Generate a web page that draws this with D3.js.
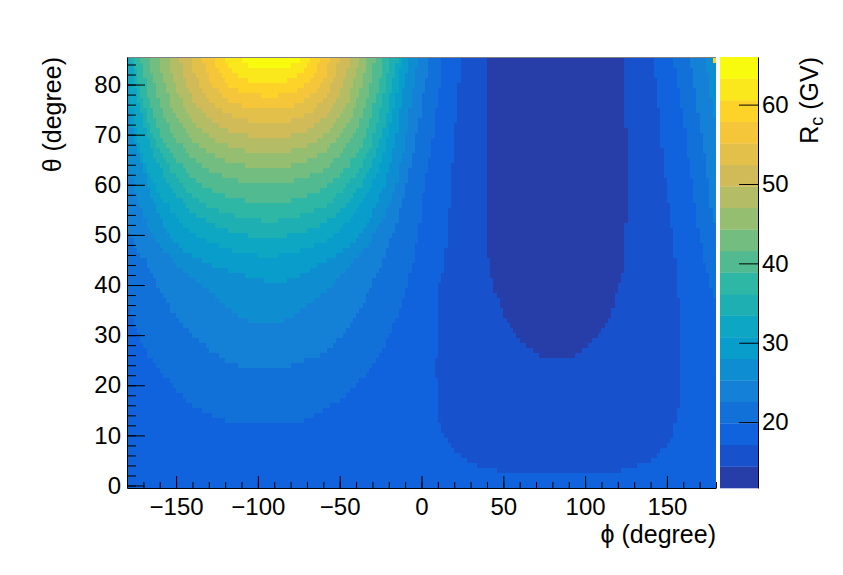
<!DOCTYPE html>
<html><head><meta charset="utf-8">
<script src="https://cdn.jsdelivr.net/npm/d3@7"></script>
<style>
body{margin:0;background:#fff}
text{font-family:"Liberation Sans",Arial,Helvetica,sans-serif}
</style>
</head><body>
<svg id="chart" width="843" height="575"></svg>
<script>
// ---------------- data ----------------
const phiRange = [-180, 180];
const thetaRange = [-0.5, 85.5];
const phiBinWidth = 2, thetaBinWidth = 1;
const zRange = [11.7, 66.0];
const nContours = 20;
const phiTicks = [-150, -100, -50, 0, 50, 100, 150];
const phiMinorTicks = d3.range(-180, 181, 10);
const thetaTicks = [0, 10, 20, 30, 40, 50, 60, 70, 80];
const thetaMinorTicks = d3.range(0, 86, 2);
const zTicks = [20, 30, 40, 50, 60];
const baseBand = 2;

// boundaries of the large "dome" (R_c above level k), phi/theta pairs
const domeBands = [3,4,5,6,7,8,9,10,11,12,13,14,15,16,17,18,19];
const domeEdges = [
  [[-180,36],[-167,26],[-161,23.4],[-151,19.4],[-140,16.1],[-126,13.7],[-114,12.4],[-77,12.4],[-66,14],[-58,15.4],[-48,17.4],[-38,20.7],[-28,24.7],[-19,30.7],[-11,37.3],[-6,43],[2,60],[8,72],[13,85.5]],
  [[-180,51],[-173,47],[-167,44],[-161,40],[-151,34],[-140,30],[-128,26.7],[-116,24.4],[-105,23.4],[-86,23.4],[-74,24.8],[-66,25.4],[-54,28],[-44,32],[-34,37.3],[-25,44],[-16,52],[-6,65],[5,85.5]],
  [[-180,65],[-172,56],[-162,49],[-149,44],[-134,40],[-120,36],[-104,32.7],[-86,32.7],[-75,34.5],[-66,36.7],[-56,39.4],[-44,44],[-32,48.5],[-21,55],[-11,67],[-2,85.5]],
  [[-180,76],[-172,65],[-160,54],[-150,48.5],[-140,46],[-127,44],[-112,42.4],[-99,41.1],[-90,40.4],[-79,41.3],[-64,44],[-42,48.5],[-25,58.4],[-16.5,68.4],[-8,85.5]],
  [[-180,84],[-175.4,72],[-166.2,62.5],[-147.9,53.1],[-129.6,48.8],[-93,46],[-60.6,48.8],[-44.4,53.1],[-28.2,61.8],[-20.1,70.5],[-12,85.5]],
  [[-178,85.5],[-171,74],[-161.8,65],[-144.6,56.1],[-127.4,52.2],[-93,49.7],[-61.8,52.2],[-46.2,56.1],[-30.6,64],[-22.8,71.9],[-15,85.5]],
  [[-176,85.5],[-167.7,73.5],[-159.4,66.5],[-142.8,58.9],[-126.2,55.3],[-93,53],[-63.4,55.3],[-48.6,58.9],[-33.8,66],[-26.4,73.2],[-19,85.5]],
  [[-172,85.5],[-164.1,74.5],[-156.2,68.2],[-140.4,61.8],[-124.6,58.6],[-93,56.6],[-65,58.6],[-51,61.8],[-37,68.2],[-30,74.5],[-23,85.5]],
  [[-167,85.5],[-159.6,75.9],[-152.2,70.4],[-137.4,64.8],[-122.6,62.1],[-93,60.3],[-67,62.1],[-54,64.8],[-41,70.4],[-34.5,75.9],[-28,85.5]],
  [[-161,85.5],[-154.2,77.2],[-147.4,72.4],[-133.8,67.5],[-120.2,65.1],[-93,63.6],[-69,65.1],[-57,67.5],[-45,72.4],[-39,77.2],[-33,85.5]],
  [[-155,85.5],[-148.8,78.3],[-142.6,74.2],[-130.2,70],[-117.8,67.9],[-93,66.6],[-71,67.9],[-60,70],[-49,74.2],[-43.5,78.3],[-38,85.5]],
  [[-148,85.5],[-142.5,79.5],[-137,76],[-126,72.5],[-115,70.7],[-93,69.6],[-73.4,70.7],[-63.6,72.5],[-53.8,76],[-48.9,79.5],[-44,85.5]],
  [[-141,85.5],[-136.2,80.6],[-131.4,77.8],[-121.8,74.9],[-112.2,73.5],[-93,72.6],[-75.8,73.5],[-67.2,74.9],[-58.6,77.8],[-54.3,80.6],[-50,85.5]],
  [[-134,85.5],[-129.9,81.6],[-125.8,79.4],[-117.6,77.1],[-109.4,76],[-93,75.3],[-78.2,76],[-70.8,77.1],[-63.4,79.4],[-59.7,81.6],[-56,85.5]],
  [[-127,85.5],[-123.6,82.6],[-120.2,80.9],[-113.4,79.3],[-106.6,78.4],[-93,77.9],[-80.6,78.4],[-74.4,79.3],[-68.2,80.9],[-65.1,82.6],[-62,85.5]],
  [[-120,85.5],[-117.3,83.6],[-114.6,82.6],[-109.2,81.5],[-103.8,80.9],[-93,80.6],[-83,80.9],[-78,81.5],[-73,82.6],[-70.5,83.6],[-68,85.5]],
  [[-112,85.5],[-110.1,84.7],[-108.2,84.2],[-104.4,83.8],[-100.6,83.6],[-93,83.4],[-85.4,83.6],[-81.6,83.8],[-77.8,84.2],[-75.9,84.7],[-74,85.5]]
];
// same dome seen again at the right edge (wrap-around)
const wrapBands = [3, 4, 5];
const wrapEdges = [
  [[154.3,85.5],[160,73],[168.2,54],[174.3,43],[178.4,38.4],[180,37]],
  [[164.1,85.5],[170.2,73],[176.3,58],[180,51]],
  [[173.3,85.5],[180,72]]
];
// low cutoff trough (R_c below level)
const troughBands = [1, 0];
const troughEdges = [
  [[24.6,85.5],[19,65],[14.4,45],[11,40],[9.5,30],[9.3,20],[11.3,12],[15.4,9],[20.5,7],[28,5],[38.8,3.5],[59,2.5],[109,2.5],[129.5,3.6],[140,5],[146,6.6],[153,10],[157,15],[158,21],[158,31],[155.5,45],[152,54],[146.8,69],[142,85.5]],
  [[40,85.5],[40,60],[41,45],[44,40],[47,37],[52,33],[59,29.7],[68,27],[76,25.4],[91,25.4],[99,27],[107,29.7],[114,33],[119,38],[123,43],[125,50],[125.5,62],[125,85.5]]
];
// single odd bin in the top-right corner
const hotCell = {phi: 178, theta: 85, band: 17};

// ---------------- palette (ROOT kBird) ----------------
const birdStops=[0,0.125,0.25,0.375,0.5,0.625,0.75,0.875,1];
const birdR=[0.2082,0.0592,0.0780,0.0232,0.1802,0.5301,0.8186,0.9956,0.9764];
const birdG=[0.1664,0.3599,0.5041,0.6419,0.7178,0.7492,0.7328,0.7862,0.9832];
const birdB=[0.5293,0.8684,0.8385,0.7914,0.6425,0.4662,0.3499,0.1968,0.0539];
const bird = d3.scaleLinear().domain(birdStops)
  .range(birdStops.map((s,i)=>d3.rgb(birdR[i]*255,birdG[i]*255,birdB[i]*255)))
  .interpolate(d3.interpolateRgb);
const bandColor = k => bird(Math.floor((k+0.99)*255/nContours)/254);

// ---------------- layout ----------------
const W=843, H=575;
const svg = d3.select("#chart");
const L=127, R=716, T=57, B=488;
const x = d3.scaleLinear().domain(phiRange).range([L,R]);
const y = d3.scaleLinear().domain(thetaRange).range([B,T]);
const FONT = "'Liberation Sans', Arial, Helvetica, sans-serif";
const FS = 24, TFS = 25;

svg.append("defs").append("clipPath").attr("id","plotclip")
  .append("rect").attr("x",L).attr("y",T).attr("width",R-L).attr("height",B-T);
const plot = svg.append("g").attr("clip-path","url(#plotclip)");
plot.append("rect").attr("x",L).attr("y",T).attr("width",R-L).attr("height",B-T)
  .attr("fill",bandColor(baseBand));

// region outlines -> used to assign each histogram bin its contour band
const curve = d3.line().x(d=>x(d[0])).y(d=>y(d[1])).curve(d3.curveCatmullRom.alpha(0.5));
const edgeLine = d3.line().x(d=>x(d[0])).y(d=>y(d[1]));
function shapePath(pts){
  const first=pts[0], last=pts[pts.length-1];
  const tail = edgeLine([last,[last[0],thetaRange[1]+2],[first[0],thetaRange[1]+2],first]);
  return curve(pts) + "L" + tail.slice(1) + "Z";
}
const layers = [];
domeBands.forEach((b,i)=>layers.push({band:b, d:shapePath(domeEdges[i])}));
wrapBands.forEach((b,i)=>layers.push({band:b, d:shapePath(wrapEdges[i])}));
troughBands.forEach((b,i)=>layers.push({band:b, d:shapePath(troughEdges[i])}));

const cv = document.createElement("canvas"); cv.width=W; cv.height=H;
const ctx = cv.getContext("2d");
ctx.fillStyle = `rgb(${baseBand*12},0,0)`; ctx.fillRect(0,0,W,H);
layers.forEach(l=>{ ctx.fillStyle=`rgb(${l.band*12},0,0)`; ctx.fill(new Path2D(l.d)); });
const img = ctx.getImageData(0,0,W,H).data;

const phiLeft = d3.range(phiRange[0], phiRange[1], phiBinWidth);
const thetaCenters = d3.range(thetaRange[0]+thetaBinWidth/2, thetaRange[1], thetaBinWidth);
const runs = [];
thetaCenters.forEach(t=>{
  let cur=null;
  phiLeft.forEach(p=>{
    let band;
    if (p===hotCell.phi && t===hotCell.theta) band = hotCell.band;
    else {
      const px=Math.floor(x(p+phiBinWidth/2)), py=Math.floor(y(t));
      band = Math.round(img[(py*W+px)*4]/12);
    }
    if (cur && cur.band===band) cur.p1 = p+phiBinWidth;
    else { cur = {t, p0:p, p1:p+phiBinWidth, band}; runs.push(cur); }
  });
});
plot.append("g").selectAll("rect").data(runs).join("rect")
  .attr("x",d=>x(d.p0)).attr("width",d=>x(d.p1)-x(d.p0)+0.5)
  .attr("y",d=>y(d.t+thetaBinWidth/2)).attr("height",d=>y(d.t-thetaBinWidth/2)-y(d.t+thetaBinWidth/2)+0.5)
  .attr("fill",d=>bandColor(d.band)).attr("shape-rendering","crispEdges");

// top frame line
svg.append("line").attr("x1",L).attr("x2",R).attr("y1",T+0.5).attr("y2",T+0.5)
  .attr("stroke","#808080").attr("stroke-width",1);

// ---------------- axes ----------------
function styleAxis(g){
  g.attr("font-family",FONT).attr("font-size",FS);
  g.selectAll("line").attr("stroke","#000");
  g.selectAll("path").attr("stroke","#000");
  g.selectAll("text").attr("fill","#000");
}
const fmt = d => d<0 ? "\u2212"+Math.abs(d) : String(d);

const xMinor = svg.append("g").attr("transform",`translate(0,${B})`)
  .call(d3.axisBottom(x).tickValues(phiMinorTicks).tickSize(-6).tickFormat(""));
xMinor.select(".domain").remove();
const xMajor = svg.append("g").attr("transform",`translate(0,${B})`)
  .call(d3.axisBottom(x).tickValues(phiTicks).tickSize(-12).tickSizeOuter(0).tickPadding(10).tickFormat(fmt));
styleAxis(xMinor); styleAxis(xMajor);

const yMinor = svg.append("g").attr("transform",`translate(${L},0)`)
  .call(d3.axisLeft(y).tickValues(thetaMinorTicks).tickSize(-9).tickFormat(""));
yMinor.select(".domain").remove();
const yMajor = svg.append("g").attr("transform",`translate(${L},0)`)
  .call(d3.axisLeft(y).tickValues(thetaTicks).tickSize(-18).tickSizeOuter(0).tickPadding(6).tickFormat(fmt));
styleAxis(yMinor); styleAxis(yMajor);

// axis titles
svg.append("text").attr("x",R).attr("y",543).attr("text-anchor","end")
  .attr("font-family",FONT).attr("font-size",TFS).text("\u03d5 (degree)");
svg.append("text").attr("transform",`translate(61,${T}) rotate(-90)`).attr("text-anchor","end")
  .attr("font-family",FONT).attr("font-size",TFS).text("\u03b8 (degree)");

// ---------------- colour bar ----------------
const CBL=720, CBR=758;
const z = d3.scaleLinear().domain(zRange).range([B,T]);
const step = (zRange[1]-zRange[0])/nContours;
const levels = d3.range(nContours).map(k=>zRange[0]+k*step);
svg.append("g").selectAll("rect").data(levels).join("rect")
  .attr("x",CBL).attr("width",CBR-CBL)
  .attr("y",d=>z(d+step)).attr("height",d=>z(d)-z(d+step)+0.3)
  .attr("fill",(d,i)=>bandColor(i));
const zAxis = svg.append("g").attr("transform",`translate(${CBR},0)`)
  .call(d3.axisRight(z).tickValues(zTicks).tickSize(-19).tickSizeOuter(0).tickPadding(4));
styleAxis(zAxis);

const zt = svg.append("text").attr("transform",`translate(818,${T}) rotate(-90)`).attr("text-anchor","end")
  .attr("font-family",FONT).attr("font-size",TFS);
zt.append("tspan").text("R");
zt.append("tspan").attr("font-size",18).attr("dy",5).text("c");
zt.append("tspan").attr("dy",-5).text(" (GV)");
</script>
</body></html>
